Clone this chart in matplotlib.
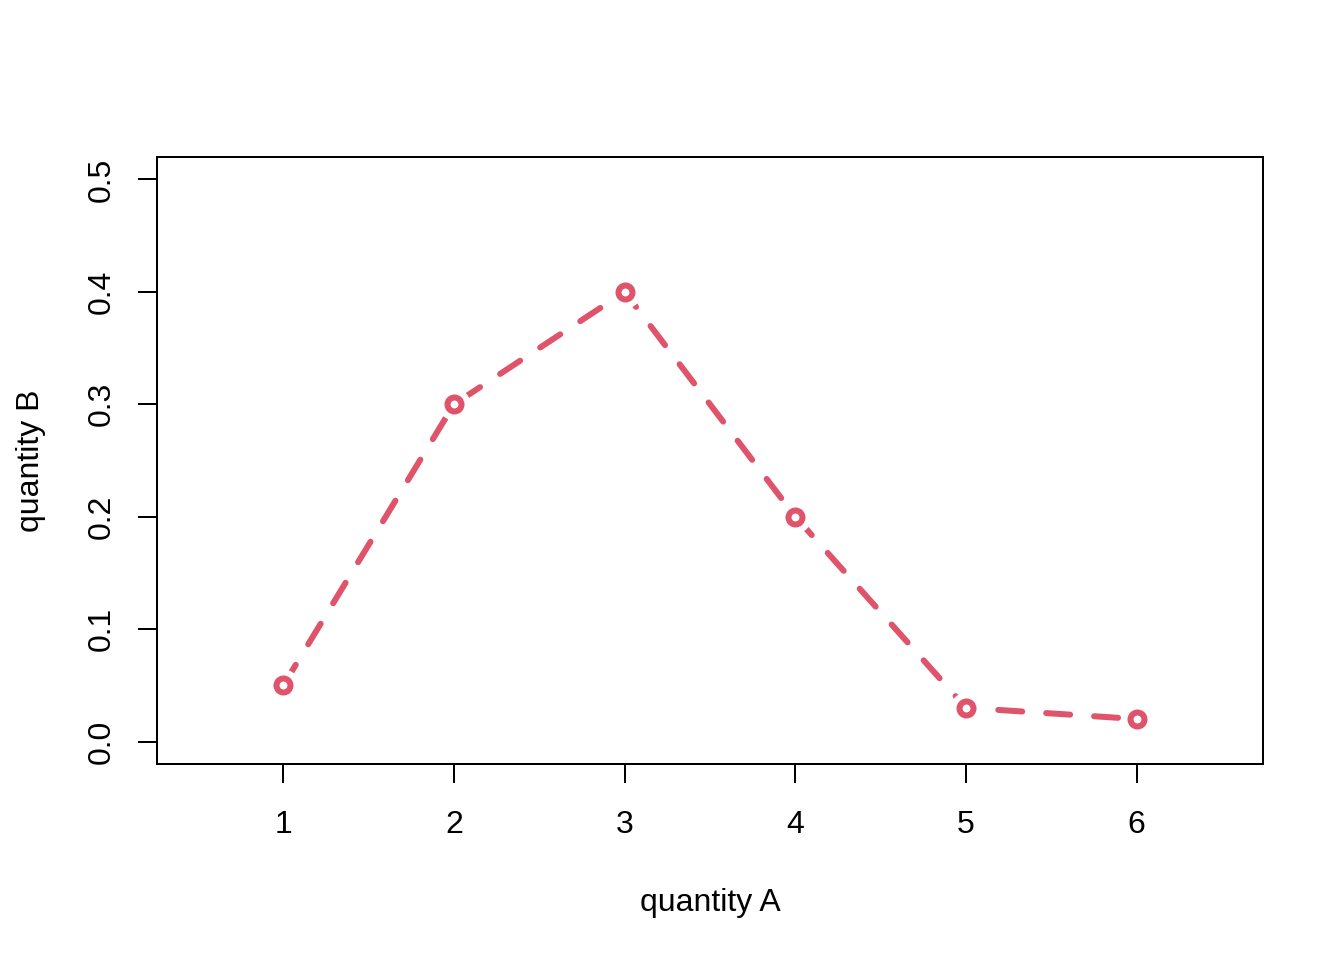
import matplotlib
matplotlib.use("Agg")
import matplotlib.pyplot as plt

# data
quantity_a = [1, 2, 3, 4, 5, 6]
quantity_b = [0.05, 0.30, 0.40, 0.20, 0.03, 0.02]
x_ticks = [1, 2, 3, 4, 5, 6]
y_ticks = [0.0, 0.1, 0.2, 0.3, 0.4, 0.5]

line_color = '#DF536B'

plt.rcParams['font.family'] = ['Liberation Sans', 'DejaVu Sans']
plt.rcParams['font.size'] = 12

fig = plt.figure(figsize=(7, 5), dpi=192)
ax = fig.add_axes([157 / 1344, 1 - 764 / 960, (1263 - 157) / 1344, (764 - 157) / 960])

# dashed line, white discs to leave gaps, then open circles
ax.plot(quantity_a, quantity_b, color=line_color, linewidth=2.25,
        dashes=(4, 4), dash_capstyle='round', solid_capstyle='round', zorder=2)
ax.plot(quantity_a, quantity_b, linestyle='none', marker='o', markersize=11,
        markerfacecolor='white', markeredgecolor='white', zorder=3)
ax.plot(quantity_a, quantity_b, linestyle='none', marker='o', markersize=5.25,
        markerfacecolor='none', markeredgecolor=line_color, markeredgewidth=2.25,
        zorder=4)

ax.set_xlim(0.26, 6.74)
ax.set_ylim(-0.02, 0.52)
ax.set_xticks(x_ticks)
ax.set_xticklabels([str(v) for v in x_ticks])
ax.set_yticks(y_ticks)
ax.set_yticklabels([f'{v:.1f}' for v in y_ticks], rotation=90, va='center')

ax.tick_params(axis='both', direction='out', length=7.2, width=0.75, labelsize=12)
ax.tick_params(axis='x', pad=10)
ax.tick_params(axis='y', pad=8)
for s in ax.spines.values():
    s.set_linewidth(0.75)

ax.set_xlabel('quantity A', fontsize=12, labelpad=18)
ax.set_ylabel('quantity B', fontsize=12, labelpad=15)

fig.savefig('out.png', dpi=192)
